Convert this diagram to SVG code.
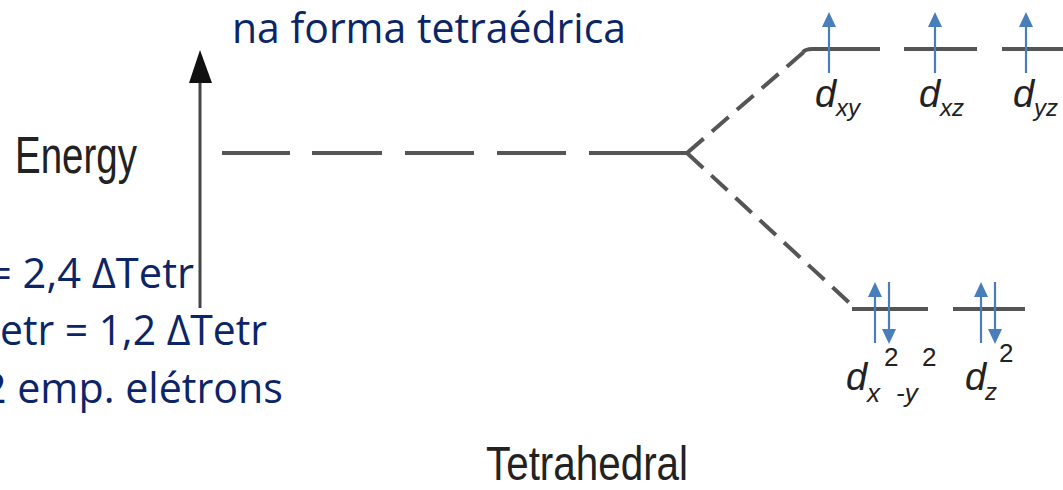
<svg xmlns="http://www.w3.org/2000/svg" width="1063" height="490" viewBox="0 0 1063 490">
<style>
.blue{font-family:"Open Sans","Noto Sans",sans-serif;font-size:42px;fill:#0b2566}
.lab{font-family:"Liberation Sans Narrow","Liberation Sans",Arial,sans-serif;fill:#222}
.d{font-family:"Liberation Sans Narrow","Liberation Sans",Arial,sans-serif;font-style:italic;fill:#222}
.lvl{stroke:#555;stroke-width:4;fill:none}
.dash{stroke:#555;stroke-width:4;fill:none;stroke-dasharray:22 11}
.sp{stroke:#4a7ebb;stroke-width:2.2;fill:none}
.hd{fill:#4a7ebb}
</style>
<rect width="1063" height="490" fill="#fff"/>
<g id="title"><text class="blue" x="232" y="43" font-size="44" textLength="394" lengthAdjust="spacingAndGlyphs">na forma tetraédrica</text></g>
<g id="notes">
<text class="blue" x="-12" y="288" textLength="206" lengthAdjust="spacingAndGlyphs">= 2,4 ΔTetr</text>
<text class="blue" x="0" y="345" textLength="267" lengthAdjust="spacingAndGlyphs">etr = 1,2 ΔTetr</text>
<text class="blue" x="-17" y="403" textLength="300" lengthAdjust="spacingAndGlyphs">2 emp. elétrons</text>
</g>
<g id="axis">
<line x1="200" y1="80" x2="200" y2="308" stroke="#444" stroke-width="3"/>
<polygon points="200,50 189,83 212,83" fill="#111"/>
<text class="lab" x="15" y="173" font-size="52" textLength="122" lengthAdjust="spacingAndGlyphs">Energy</text>
</g>
<g id="connectors">
<line class="lvl" x1="222" y1="153" x2="290" y2="153"/>
<line class="lvl" x1="312" y1="153" x2="382" y2="153"/>
<line class="lvl" x1="405" y1="153" x2="474" y2="153"/>
<line class="lvl" x1="497" y1="153" x2="566" y2="153"/>
<line class="lvl" x1="589" y1="153" x2="687" y2="153"/>
<path class="dash" d="M687,153 L805,51"/>
<path class="dash" d="M687,153 L855,308"/>
</g>
<g id="upper-levels">
<path class="lvl" d="M803,52 Q806,49 812,49 L880,49"/>
<line class="lvl" x1="904" y1="49" x2="977" y2="49"/>
<line class="lvl" x1="1002" y1="49" x2="1063" y2="49"/>
</g>
<g id="lower-levels">
<line class="lvl" x1="852" y1="309" x2="928" y2="309"/>
<line class="lvl" x1="953" y1="309" x2="1025" y2="309"/>
</g>
<g id="electrons">
<line class="sp" x1="829" y1="73" x2="829" y2="24"/><polygon class="hd" points="829,12 822,27 836,27"/>
<line class="sp" x1="935" y1="73" x2="935" y2="24"/><polygon class="hd" points="935,12 928,27 942,27"/>
<line class="sp" x1="1026" y1="73" x2="1026" y2="24"/><polygon class="hd" points="1026,12 1019,27 1033,27"/>
<line class="sp" x1="875" y1="343" x2="875" y2="294"/><polygon class="hd" points="875,282 868,297 882,297"/>
<line class="sp" x1="889" y1="282" x2="889" y2="332"/><polygon class="hd" points="889,344 882,329 896,329"/>
<line class="sp" x1="981" y1="343" x2="981" y2="294"/><polygon class="hd" points="981,282 974,297 988,297"/>
<line class="sp" x1="995" y1="282" x2="995" y2="332"/><polygon class="hd" points="995,344 988,329 1002,329"/>
</g>
<g id="labels">
<text class="d" x="815" y="107" font-size="38">d</text><text class="d" x="836" y="116" font-size="24">xy</text>
<text class="d" x="919" y="107" font-size="38">d</text><text class="d" x="940" y="116" font-size="24">xz</text>
<text class="d" x="1013" y="107" font-size="38">d</text><text class="d" x="1034" y="116" font-size="24">yz</text>
<text class="d" x="846" y="390" font-size="38">d</text><text class="d" x="867" y="402" font-size="26">x</text><text class="d" x="896" y="402" font-size="26">-y</text>
<text class="lab" x="884" y="366" font-size="26">2</text><text class="lab" x="922" y="366" font-size="26">2</text>
<text class="d" x="965" y="390" font-size="38">d</text><text class="d" x="985" y="400" font-size="24">z</text>
<text class="lab" x="999" y="362" font-size="26">2</text>
</g>
<g id="footer"><text class="lab" x="486" y="480" font-size="48" textLength="202" lengthAdjust="spacingAndGlyphs">Tetrahedral</text></g>
</svg>
